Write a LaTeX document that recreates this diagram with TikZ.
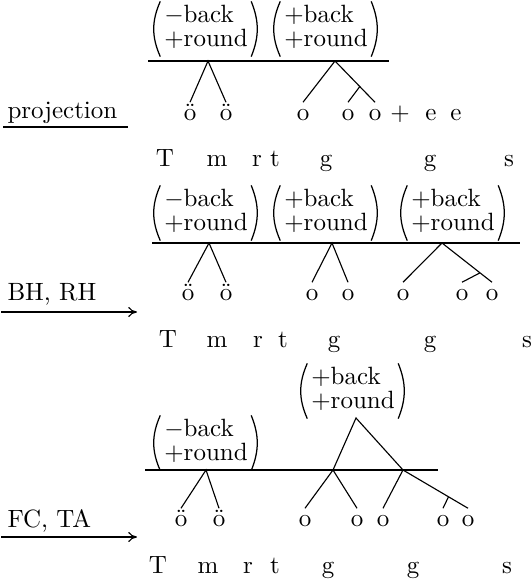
\documentclass[tikz,border=0pt]{standalone}
\usetikzlibrary{calc,arrows.meta}
\begin{document}
\begin{tikzpicture}[x=0.4pt,y=-0.4pt,
  every node/.style={font=\fontsize{10}{12}\selectfont, inner sep=0pt},
  feat/.style={inner xsep=3pt, inner ysep=1.2pt},
  seg/.style={anchor=base},
  vow/.style={anchor=base, text height=5.5pt, text depth=0pt, outer sep=1.6pt},
  leg/.style={line width=0.45pt},
  tier/.style={line width=0.5pt},
  derive/.style={line width=0.45pt, -{To[length=3.5pt,width=4pt]}}]
\useasboundingbox (0,0) rectangle (532,579);

% feature matrix with hand-drawn parentheses
\newcommand{\featmat}[3]{%
  \node[feat] (#1) at #2 {\def\arraystretch{0.75}\begin{tabular}{@{}l@{}}#3\end{tabular}};
  \draw[line width=0.5pt] ([xshift=1.6pt]#1.north west) to[bend right=24] ([xshift=1.6pt]#1.south west);
  \draw[line width=0.5pt] ([xshift=-1.8pt]#1.north east) to[bend left=22] ([xshift=-1.8pt]#1.south east);}
\newcommand{\fB}{$-$back\\$+$round}
\newcommand{\bB}{$+$back\\$+$round}

% ---------------- projection ----------------
\node[anchor=base west] (lab1) at (7,118) {projection};
\coordinate (u1a) at (3,127); \coordinate (u1b) at (128,127);
\draw[leg] (u1a) -- (u1b);

\featmat{m11}{(206,29)}{\fB}
\featmat{m12}{(326,29)}{\bB}
\coordinate (t1a) at (148,61); \coordinate (t1b) at (389,61);
\draw[tier] (t1a) -- (t1b);
\coordinate (p11) at (208,61);
\coordinate (p12) at (335,61);

\node[vow] (v11) at (190,120) {\"o};
\node[vow] (v12) at (226,120) {\"o};
\node[vow] (v13) at (303,120) {o};
\node[vow] (v14) at (348,120) {o};
\node[vow] (v15) at (375,120) {o};
\node[seg] (pl1) at (400,120) {$+$};
\node[vow] (v16) at (431,120) {e};
\node[vow] (v17) at (456,120) {e};

\draw[leg] (v11.north) -- (p11) -- (v12.north);
\draw[leg] (v13.north) -- (p12) -- (v15.north);
\coordinate (k12) at ($(p12)!0.62!(v15.north)$);
\draw[leg] (k12) -- (v14.north);

\node[seg] (c11) at (165,166) {T};
\node[seg] (c12) at (217,166) {m};
\node[seg] (c13) at (257,166) {r};
\node[seg] (c14) at (275,166) {t};
\node[seg] (c15) at (326,166) {g};
\node[seg] (c16) at (430,166) {g};
\node[seg] (c17) at (509,166) {s};

% ---------------- BH, RH ----------------
\node[anchor=base west] (lab2) at (7,300) {BH, RH};
\coordinate (r2a) at (1,312); \coordinate (r2b) at (137,312);
\draw[derive] (r2a) -- (r2b);

\featmat{m21}{(206,213)}{\fB}
\featmat{m22}{(326,213)}{\bB}
\featmat{m23}{(453,213)}{\bB}
\coordinate (t2a) at (152,243); \coordinate (t2b) at (520,243);
\draw[tier] (t2a) -- (t2b);
\coordinate (p21) at (209,243);
\coordinate (p22) at (332,243);
\coordinate (p23) at (442,243);

\node[vow] (v21) at (188,300) {\"o};
\node[vow] (v22) at (226,300) {\"o};
\node[vow] (v23) at (312,300) {o};
\node[vow] (v24) at (348,300) {o};
\node[vow] (v25) at (403,300) {o};
\node[vow] (v26) at (462,300) {o};
\node[vow] (v27) at (492,300) {o};

\draw[leg] (v21.north) -- (p21) -- (v22.north);
\draw[leg] (v23.north) -- (p22) -- (v24.north);
\draw[leg] (v25.north) -- (p23) -- (v27.north);
\coordinate (k23) at ($(p23)!0.76!(v27.north)$);
\draw[leg] (k23) -- (v26.north);

\node[seg] (c21) at (168,347) {T};
\node[seg] (c22) at (217,347) {m};
\node[seg] (c23) at (258,347) {r};
\node[seg] (c24) at (283,347) {t};
\node[seg] (c25) at (334,347) {g};
\node[seg] (c26) at (430,347) {g};
\node[seg] (c27) at (527,347) {s};

% ---------------- FC, TA ----------------
\node[anchor=base west] (lab3) at (7,527) {FC, TA};
\coordinate (r3a) at (1,537); \coordinate (r3b) at (137,537);
\draw[derive] (r3a) -- (r3b);

\featmat{m31}{(206,443)}{\fB}
\featmat{m32}{(353,391)}{\bB}
\coordinate (t3a) at (145,470); \coordinate (t3b) at (438,470);
\draw[tier] (t3a) -- (t3b);
\coordinate (p31) at (206,470);
\coordinate (p32) at (356,418);
\coordinate (j31) at (333,470);
\coordinate (j32) at (403,470);

\node[vow] (v31) at (181,526) {\"o};
\node[vow] (v32) at (219,526) {\"o};
\node[vow] (v33) at (305,526) {o};
\node[vow] (v34) at (357,526) {o};
\node[vow] (v35) at (383,526) {o};
\node[vow] (v36) at (443,526) {o};
\node[vow] (v37) at (468,526) {o};

\draw[leg] (v31.north) -- (p31) -- (v32.north);
\draw[leg] (j31) -- (p32) -- (j32);
\draw[leg] (v33.north) -- (j31) -- (v34.north);
\draw[leg] (v35.north) -- (j32) -- (v37.north);
\coordinate (k32) at ($(j32)!0.7!(v37.north)$);
\draw[leg] (k32) -- (v36.north);

\node[seg] (c31) at (158,573) {T};
\node[seg] (c32) at (208,573) {m};
\node[seg] (c33) at (248,573) {r};
\node[seg] (c34) at (275,573) {t};
\node[seg] (c35) at (328,573) {g};
\node[seg] (c36) at (413,573) {g};
\node[seg] (c37) at (507,573) {s};
\end{tikzpicture}
\end{document}
